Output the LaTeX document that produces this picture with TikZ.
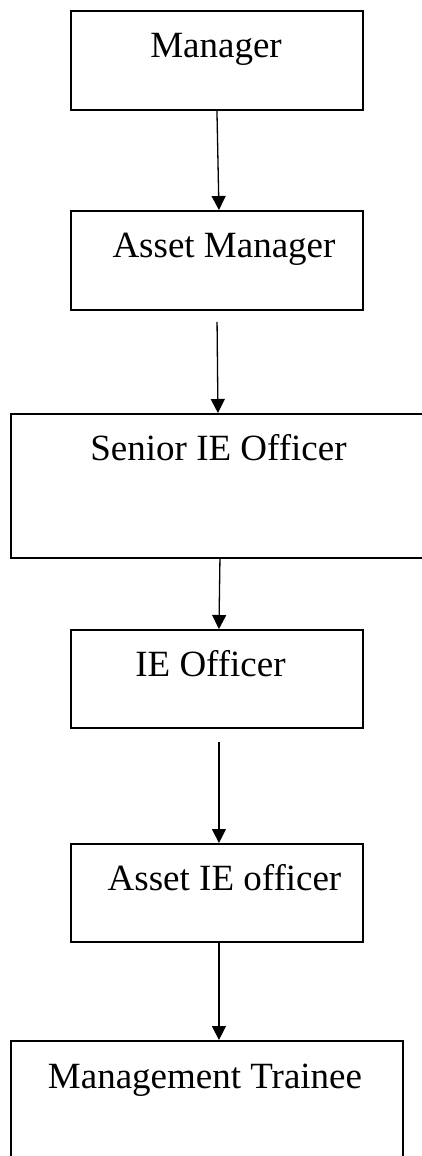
\documentclass[tikz,border=0pt]{standalone}
\usepackage{fontspec}
\setmainfont{Liberation Serif}
\usetikzlibrary{arrows.meta}

\tikzset{
  post/.style={draw, line width=1.9pt, rectangle, inner sep=0pt, anchor=north west},
  rank/.style={font=\fontsize{37}{44}\selectfont, anchor=base, inner sep=0pt},
  link/.style={line width=1.3pt, -{Triangle[length=14pt,width=14pt]}}
}

\begin{document}
\begin{tikzpicture}[x=1pt,y=-1pt]
\useasboundingbox (0,0) rectangle (422,1156);
\clip (0,0) rectangle (422,1156);
% boxes
\node[post, minimum width=292pt, minimum height=99pt] (mgr) at (70,10) {};
\node[post, minimum width=292pt, minimum height=99pt] (amgr) at (70,210) {};
\node[post, minimum width=414pt, minimum height=144pt] (sieo) at (10,413) {};
\node[post, minimum width=292pt, minimum height=98pt] (ieo) at (70,629) {};
\node[post, minimum width=292pt, minimum height=98pt] (aieo) at (70,843) {};
\node[post, minimum width=392pt, minimum height=130pt] (mt) at (10,1040) {};
% titles
\node[rank] (mgrtxt) at (216,58) {Manager};
\node[rank] (amgrtxt) at (224,257) {Asset Manager};
\node[rank] (sieotxt) at (218.5,460) {Senior IE Officer};
\node[rank] (ieotxt) at (210.5,676) {IE Officer};
\node[rank] (aieotxt) at (224.5,890) {Asset IE officer};
\node[rank] (mttxt) at (205,1088) {Management Trainee};
% arrows
\draw[link] (mgr.south) -- ([xshift=2pt]amgr.north);
\draw[link, shorten <=11pt] (amgr.south) -- (sieo.north);
\draw[link] ([xshift=2pt]sieo.south) -- ([xshift=2pt]ieo.north);
\draw[link, shorten <=13pt] ([xshift=2pt]ieo.south) -- ([xshift=2pt]aieo.north);
\draw[link] ([xshift=2pt]aieo.south) -- ([xshift=2pt]aieo.south |- mt.north);
\end{tikzpicture}
\end{document}
